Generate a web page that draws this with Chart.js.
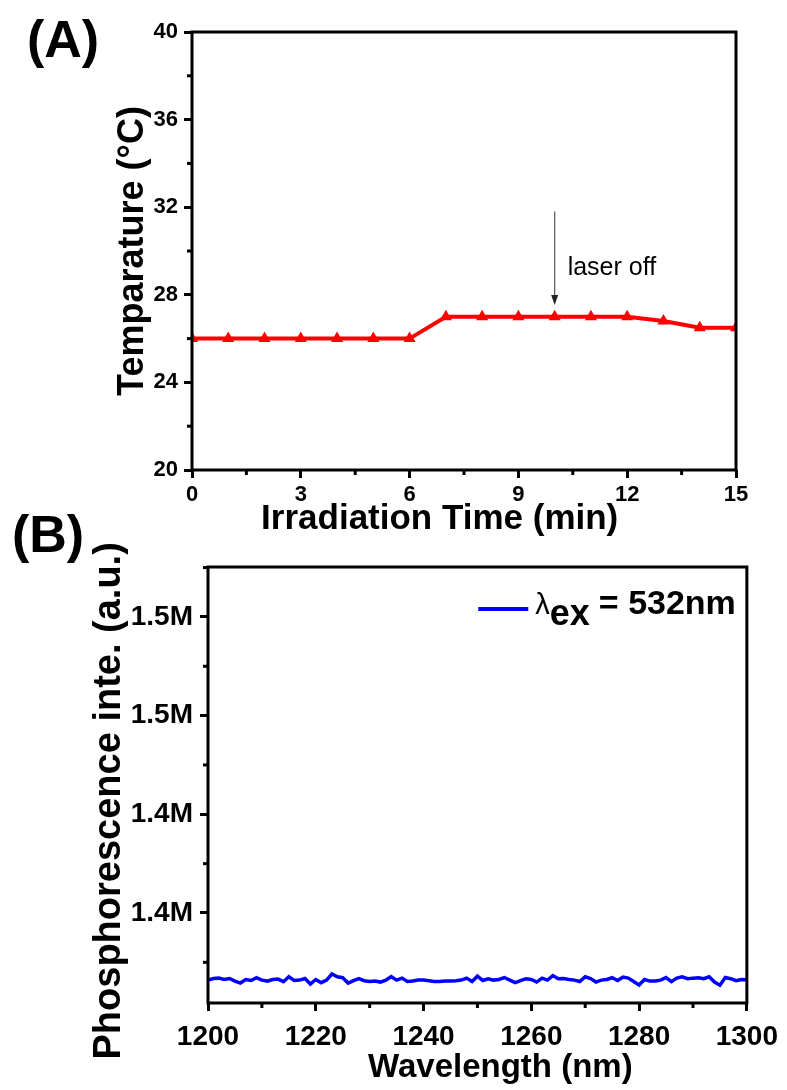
<!DOCTYPE html>
<html>
<head>
<meta charset="utf-8">
<script src="https://cdn.jsdelivr.net/npm/chart.js@4.4.1/dist/chart.umd.min.js"></script>
<style>
    html, body { margin: 0; padding: 0; background: #fff; }
    body { width: 787px; height: 1090px; position: relative; overflow: hidden; font-family: "Liberation Sans", Arial, sans-serif; }
    .panel { position: absolute; left: 0; width: 787px; }
    #panelA { top: 0; height: 545px; }
    #panelB { top: 540px; height: 550px; }
    .tag { position: absolute; font-weight: bold; font-size: 52px; line-height: 1; color: #000; }
</style>
</head>
<body>
<div class="panel" id="panelA"><canvas id="chartA"></canvas></div>
<div class="panel" id="panelB"><canvas id="chartB"></canvas></div>
<div class="tag" style="left:27px; top:13px;">(A)</div>
<div class="tag" style="left:12px; top:508px;">(B)</div>
<script>
// (A) temperature under irradiation
const irradiationTimes = [0, 1, 2, 3, 4, 5, 6, 7, 8, 9, 10, 11, 12, 13, 14, 15];
const temperatures = [26, 26, 26, 26, 26, 26, 26, 27, 27, 27, 27, 27, 27, 26.8, 26.5, 26.5];
const timeTickValues = [0, 3, 6, 9, 12, 15];
const timeTickLabels = ['0', '3', '6', '9', '12', '15'];
const tempTickValues = [20, 24, 28, 32, 36, 40];
const tempTickLabels = ['20', '24', '28', '32', '36', '40'];

// laser off arrow (in data units)
const laserOffTime = 10;
const arrowStartTemp = 31.8;
const arrowEndTemp = 27.53;
const laserLabelTemp = 28.9;
const laserOffLabel = 'laser off';

// (B) phosphorescence spectrum, intensity in thousands
const wavelengths = [
    1200, 1201, 1202, 1203, 1204, 1205, 1206, 1207, 1208, 1209,
    1210, 1211, 1212, 1213, 1214, 1215, 1216, 1217, 1218, 1219,
    1220, 1221, 1222, 1223, 1224, 1225, 1226, 1227, 1228, 1229,
    1230, 1231, 1232, 1233, 1234, 1235, 1236, 1237, 1238, 1239,
    1240, 1241, 1242, 1243, 1244, 1245, 1246, 1247, 1248, 1249,
    1250, 1251, 1252, 1253, 1254, 1255, 1256, 1257, 1258, 1259,
    1260, 1261, 1262, 1263, 1264, 1265, 1266, 1267, 1268, 1269,
    1270, 1271, 1272, 1273, 1274, 1275, 1276, 1277, 1278, 1279,
    1280, 1281, 1282, 1283, 1284, 1285, 1286, 1287, 1288, 1289,
    1290, 1291, 1292, 1293, 1294, 1295, 1296, 1297, 1298, 1299, 1300
];
const intensities = [
    1316.0, 1316.8, 1317.0, 1316.3, 1316.8, 1315.5, 1314.5, 1316.3, 1315.8, 1317.2,
    1316.0, 1315.5, 1316.3, 1316.5, 1315.2, 1317.7, 1315.8, 1316.0, 1316.8, 1314.0,
    1316.3, 1314.7, 1316.0, 1319.1, 1317.7, 1317.2, 1314.5, 1315.7, 1316.7, 1315.7,
    1315.3, 1315.5, 1315.0, 1316.0, 1317.8, 1316.0, 1317.0, 1315.3, 1315.5, 1316.0,
    1316.0, 1315.7, 1315.3, 1315.3, 1315.5, 1315.5, 1315.7, 1316.0, 1317.0, 1315.3,
    1318.0, 1315.8, 1316.7, 1316.0, 1316.3, 1317.3, 1316.0, 1314.7, 1315.7, 1316.7,
    1316.3, 1315.0, 1317.0, 1316.0, 1318.3, 1316.7, 1316.8, 1316.3, 1316.0, 1315.3,
    1317.7, 1316.8, 1315.0, 1316.0, 1316.3, 1317.2, 1315.8, 1317.5, 1317.0, 1315.3,
    1313.5, 1316.3, 1315.5, 1315.5, 1316.0, 1317.3, 1315.2, 1317.0, 1317.7, 1316.7,
    1317.0, 1317.2, 1316.7, 1317.7, 1315.0, 1313.4, 1317.3, 1316.7, 1315.7, 1316.3, 1316.2
];
const wavelengthTickValues = [1200, 1220, 1240, 1260, 1280, 1300];
const wavelengthTickLabels = ['1200', '1220', '1240', '1260', '1280', '1300'];
const intensityTickValues = [1350, 1400, 1450, 1500];
const intensityTickLabels = ['1.4M', '1.4M', '1.5M', '1.5M'];

// legend text pieces
const legendSymbol = 'λ';
const legendSub = 'ex';
const legendRest = '= 532nm';

const FONT = '"Liberation Sans", Arial, sans-serif';

// major ticks get a label, minor ones get ''
function tickLabel(value, values, labels) {
    const i = values.findIndex(v => Math.abs(v - value) < 1e-6);
    return i === -1 ? '' : labels[i];
}

const majorTickGrid = {
    display: true,
    drawOnChartArea: false,
    drawTicks: true,
    tickLength: 8,
    tickWidth: 3,
    tickColor: c => (c.tick && c.tick.label !== '') ? '#000' : 'rgba(0,0,0,0)'
};

// black box round the plot area
const frameBox = {
    id: 'frameBox',
    afterDatasetsDraw(chart) {
        const { ctx, chartArea: a } = chart;
        ctx.save();
        ctx.strokeStyle = '#000';
        ctx.lineWidth = 3;
        ctx.strokeRect(a.left, a.top, a.right - a.left, a.bottom - a.top);
        ctx.restore();
    }
};

// short minor ticks
const minorTicks = {
    id: 'minorTicks',
    afterDraw(chart) {
        const ctx = chart.ctx;
        ctx.save();
        ctx.strokeStyle = '#000';
        ctx.lineWidth = 3;
        ['x', 'y'].forEach(id => {
            const s = chart.scales[id];
            s.ticks.forEach(t => {
                if (t.label !== '') return;
                const p = s.getPixelForValue(t.value);
                ctx.beginPath();
                if (id === 'x') {
                    ctx.moveTo(p, s.top);
                    ctx.lineTo(p, s.top + 5);
                } else {
                    ctx.moveTo(s.right, p);
                    ctx.lineTo(s.right - 5, p);
                }
                ctx.stroke();
            });
        });
        ctx.restore();
    }
};

// arrow + "laser off"
const laserOffNote = {
    id: 'laserOffNote',
    afterDatasetsDraw(chart) {
        const { ctx, scales: { x, y } } = chart;
        const px = x.getPixelForValue(laserOffTime);
        const y0 = y.getPixelForValue(arrowStartTemp);
        const y1 = y.getPixelForValue(arrowEndTemp);
        ctx.save();
        ctx.strokeStyle = '#555';
        ctx.lineWidth = 1.2;
        ctx.beginPath();
        ctx.moveTo(px, y0);
        ctx.lineTo(px, y1 - 6);
        ctx.stroke();
        ctx.fillStyle = '#222';
        ctx.beginPath();
        ctx.moveTo(px - 3.5, y1 - 10);
        ctx.lineTo(px + 3.5, y1 - 10);
        ctx.lineTo(px, y1);
        ctx.closePath();
        ctx.fill();
        ctx.fillStyle = '#000';
        ctx.font = '25px ' + FONT;
        ctx.textBaseline = 'alphabetic';
        ctx.textAlign = 'left';
        ctx.fillText(laserOffLabel, px + 13, y.getPixelForValue(laserLabelTemp));
        ctx.restore();
    }
};

// legend of panel B, laid out from the right edge: line sample, λ, subscript ex, rest
const spectrumLegend = {
    id: 'spectrumLegend',
    afterDraw(chart) {
        const { ctx, chartArea: a } = chart;
        const ds = chart.data.datasets[0];
        const lineY = a.top + 42;
        ctx.save();
        ctx.fillStyle = '#000';
        ctx.textBaseline = 'alphabetic';
        ctx.textAlign = 'left';

        ctx.font = 'bold 34px ' + FONT;
        const restW = ctx.measureText(legendRest).width;
        ctx.font = 'bold 36px ' + FONT;
        const subW = ctx.measureText(legendSub).width;
        ctx.font = '29px ' + FONT;
        const symW = ctx.measureText(legendSymbol).width;

        let x = a.right - 11 - restW;
        ctx.font = 'bold 34px ' + FONT;
        ctx.fillText(legendRest, x, a.top + 47);
        x -= subW + 9;
        ctx.font = 'bold 36px ' + FONT;
        ctx.fillText(legendSub, x, a.top + 58);
        x -= symW;
        ctx.font = '29px ' + FONT;
        ctx.fillText(legendSymbol, x, a.top + 47);

        ctx.strokeStyle = ds.borderColor;
        ctx.lineWidth = 4;
        ctx.beginPath();
        ctx.moveTo(x - 57, lineY);
        ctx.lineTo(x - 7, lineY);
        ctx.stroke();
        ctx.restore();
    }
};

// (A)
new Chart(document.getElementById('chartA'), {
    type: 'line',
    data: {
        datasets: [{
            data: irradiationTimes.map((t, i) => ({ x: t, y: temperatures[i] })),
            borderColor: '#ff0000',
            backgroundColor: '#ff0000',
            borderWidth: 4,
            pointStyle: 'triangle',
            pointRadius: 7,
            pointBorderWidth: 0,
            pointBackgroundColor: '#ff0000',
            tension: 0
        }]
    },
    options: {
        responsive: true,
        maintainAspectRatio: false,
        animation: false,
        layout: { padding: { left: 0, top: 32, right: 51, bottom: 0 } },
        plugins: { legend: { display: false }, tooltip: { enabled: false } },
        scales: {
            x: {
                type: 'linear',
                min: 0,
                max: 15,
                afterFit: s => { s.height = 75; },
                grid: majorTickGrid,
                border: { display: false },
                ticks: {
                    stepSize: 1.5,
                    autoSkip: false,
                    maxRotation: 0,
                    padding: 4,
                    color: '#000',
                    font: { family: FONT, size: 22, weight: 'bold' },
                    callback: v => tickLabel(v, timeTickValues, timeTickLabels)
                },
                title: {
                    display: true,
                    // trailing spaces nudge the centred title left, as in the figure
                    text: 'Irradiation Time (min)     ',
                    color: '#000',
                    font: { family: FONT, size: 35, weight: 'bold' },
                    padding: { top: 0, bottom: 5 }
                }
            },
            y: {
                type: 'linear',
                min: 20,
                max: 40,
                afterFit: s => { s.width = 192; },
                grid: majorTickGrid,
                border: { display: false },
                ticks: {
                    stepSize: 2,
                    autoSkip: false,
                    padding: 6,
                    color: '#000',
                    font: { family: FONT, size: 22, weight: 'bold' },
                    callback: v => tickLabel(v, tempTickValues, tempTickLabels)
                },
                title: {
                    display: true,
                    text: 'Temparature (°C)',
                    color: '#000',
                    font: { family: FONT, size: 36, weight: 'bold' },
                    padding: { top: 111, bottom: 0 }
                }
            }
        }
    },
    plugins: [frameBox, minorTicks, laserOffNote]
});

// (B)
new Chart(document.getElementById('chartB'), {
    type: 'line',
    data: {
        datasets: [{
            data: wavelengths.map((w, i) => ({ x: w, y: intensities[i] })),
            borderColor: '#0000ff',
            borderWidth: 3.5,
            pointRadius: 0,
            tension: 0
        }]
    },
    options: {
        responsive: true,
        maintainAspectRatio: false,
        animation: false,
        layout: { padding: { left: 0, top: 27, right: 38, bottom: 0 } },
        plugins: { legend: { display: false }, tooltip: { enabled: false } },
        scales: {
            x: {
                type: 'linear',
                min: 1200,
                max: 1300,
                afterFit: s => { s.height = 87; },
                grid: majorTickGrid,
                border: { display: false },
                ticks: {
                    stepSize: 10,
                    autoSkip: false,
                    maxRotation: 0,
                    padding: 9,
                    color: '#000',
                    font: { family: FONT, size: 28, weight: 'bold' },
                    callback: v => tickLabel(v, wavelengthTickValues, wavelengthTickLabels)
                },
                title: {
                    display: true,
                    text: '     Wavelength (nm)',
                    color: '#000',
                    font: { family: FONT, size: 33, weight: 'bold' },
                    padding: { top: 0, bottom: 2 }
                }
            },
            y: {
                type: 'linear',
                min: 1304.4,
                max: 1525.3,
                afterFit: s => { s.width = 208; },
                grid: majorTickGrid,
                border: { display: false },
                ticks: {
                    stepSize: 25,
                    includeBounds: false,
                    autoSkip: false,
                    padding: 7,
                    color: '#000',
                    font: { family: FONT, size: 28, weight: 'bold' },
                    callback: v => tickLabel(v, intensityTickValues, intensityTickLabels)
                },
                title: {
                    display: true,
                    text: 'Phosphorescence inte. (a.u.)   ',
                    color: '#000',
                    font: { family: FONT, size: 38, weight: 'bold' },
                    padding: { top: 87, bottom: 0 }
                }
            }
        }
    },
    plugins: [frameBox, minorTicks, spectrumLegend]
});
</script>
</body>
</html>
